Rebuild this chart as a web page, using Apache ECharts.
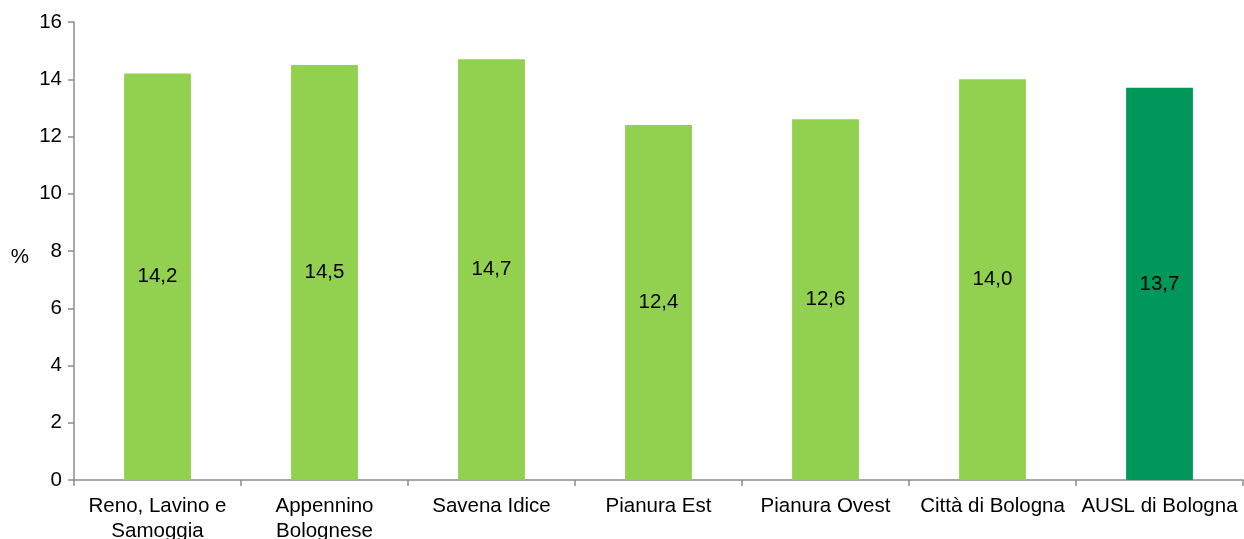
<!DOCTYPE html>
<html><head><meta charset="utf-8">
<script src="https://cdn.jsdelivr.net/npm/echarts@6/dist/echarts.min.js"></script>
<style>html,body{margin:0;padding:0;background:#fff}#c{width:1244px;height:539px}</style>
</head><body><div id="c"></div>
<script>
const categories = ['Reno, Lavino e\nSamoggia', 'Appennino\nBolognese', 'Savena Idice', 'Pianura Est', 'Pianura Ovest', 'Città di Bologna', 'AUSL di Bologna'];
const values = [14.2, 14.5, 14.7, 12.4, 12.6, 14.0, 13.7];
const barColors = ['#92D050', '#92D050', '#92D050', '#92D050', '#92D050', '#92D050', '#00985A'];
const yTicks = [0, 2, 4, 6, 8, 10, 12, 14, 16];

const chart = echarts.init(document.getElementById('c'));
const font = 'Liberation Sans, Arial, sans-serif';
chart.setOption({
  animation: false,
  grid: {left: 74, right: 1, top: 22, bottom: 59, containLabel: false, outerBoundsMode: 'none'},
  xAxis: {
    type: 'category', data: categories,
    axisLine: {lineStyle: {color: '#8C8C8C', width: 1.5}},
    axisTick: {show: true, length: 6, lineStyle: {color: '#8C8C8C', width: 1.5}},
    axisLabel: {color: '#000', fontSize: 20.5, fontFamily: font, margin: 14, lineHeight: 25, interval: 0}
  },
  yAxis: {
    type: 'value', min: yTicks[0], max: yTicks[yTicks.length - 1], interval: 2,
    name: '%', nameLocation: 'middle', nameGap: 45, nameRotate: 0,
    nameTextStyle: {color: '#000', fontSize: 20.5, fontFamily: font, verticalAlign: 'top', lineHeight: 12},
    axisLine: {show: true, lineStyle: {color: '#8C8C8C', width: 1.5}},
    axisTick: {show: true, length: 6, lineStyle: {color: '#8C8C8C', width: 1.5}},
    splitLine: {show: false},
    axisLabel: {color: '#000', fontSize: 20.5, fontFamily: font, margin: 12}
  },
  series: [{
    type: 'bar', barWidth: '40%',
    data: values.map((v, i) => ({value: v, itemStyle: {color: barColors[i]}})),
    label: {show: true, position: 'inside', color: '#000', fontSize: 20.5, fontFamily: font,
      formatter: p => p.value.toFixed(1).replace('.', ',')}
  }]
});
</script></body></html>
